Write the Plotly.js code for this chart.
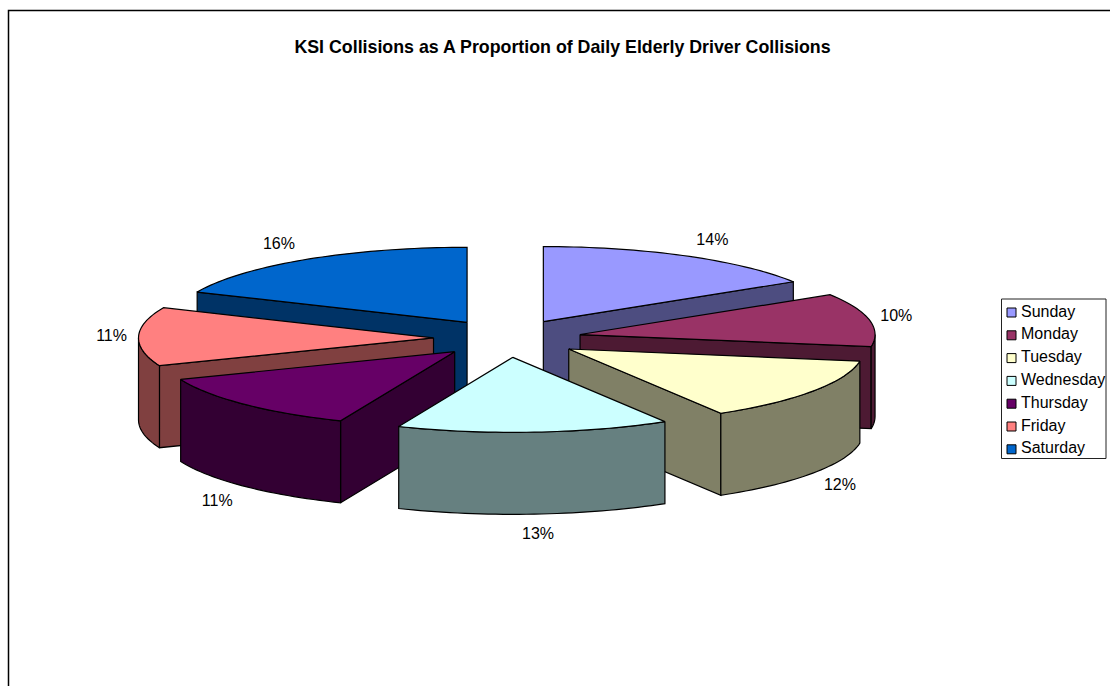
<!DOCTYPE html>
<html>
<head>
<meta charset="utf-8">
<script src="https://cdn.plot.ly/plotly-3.0.1.min.js"></script>
<style>html,body{margin:0;padding:0;background:#fff}#chart{width:1110px;height:686px}</style>
</head>
<body>
<div id="chart"></div>
<script>
// Share of killed-or-seriously-injured collisions, per weekday
const days = ['Sunday', 'Monday', 'Tuesday', 'Wednesday', 'Thursday', 'Friday', 'Saturday'];
const ksiPercent = [14, 10, 12, 13, 11, 11, 16];
const topColors = ['#9999FF', '#993366', '#FFFFCC', '#CCFFFF', '#660066', '#FF8080', '#0066CC'];
const sideColors = ['#4D4D80', '#4D1A33', '#808066', '#668080', '#330033', '#804040', '#003366'];

// Projection of the tilted, exploded pie onto the plot's pixel-sized axes
const CX = 507.5, CY = 338.3, RX = 295, RY = 75, DEPTH = 82, EX = 74, EY = 19.1;
const total = ksiPercent.reduce((a, b) => a + b, 0);
const rad = d => d * Math.PI / 180;

let running = 0;
const wedges = days.map((day, i) => {
  const start = running / total * 360;
  running += ksiPercent[i];
  const end = running / total * 360;
  const mid = (start + end) / 2;
  return {
    i, day, start, end, mid,
    ax: CX + EX * Math.sin(rad(mid)),
    ay: CY - EY * Math.cos(rad(mid))
  };
});

const rimPoint = (w, deg, drop) => [
  w.ax + RX * Math.sin(rad(deg)),
  w.ay - RY * Math.cos(rad(deg)) + drop
];

function polygon(points, fill, name) {
  return {
    type: 'scatter', mode: 'lines', name,
    x: points.map(p => p[0]), y: points.map(p => p[1]),
    fill: 'toself', fillcolor: fill,
    line: {color: '#000', width: 1.2, simplify: false},
    hoverinfo: 'text', text: name, showlegend: false
  };
}

function arc(w, from, to, drop) {
  const pts = [];
  const steps = Math.max(1, Math.ceil(Math.abs(to - from) / 1.5));
  for (let k = 0; k <= steps; k++) pts.push(rimPoint(w, from + (to - from) * k / steps, drop));
  return pts;
}

function wedgeFaces(w) {
  const faces = [];
  const label = w.day + ': ' + ksiPercent[w.i] + '%';
  const side = sideColors[w.i];
  const apexTop = [w.ax, w.ay], apexLow = [w.ax, w.ay + DEPTH];
  // Cut faces, kept only when they turn toward the viewer
  if (Math.cos(rad(w.start - 90)) < 0) {
    faces.push(polygon([apexTop, rimPoint(w, w.start, 0), rimPoint(w, w.start, DEPTH), apexLow, apexTop], side, label));
  }
  if (Math.cos(rad(w.end + 90)) < 0) {
    faces.push(polygon([apexTop, rimPoint(w, w.end, 0), rimPoint(w, w.end, DEPTH), apexLow, apexTop], side, label));
  }
  // Outer wall: only the part of the rim on the near half
  const from = Math.max(w.start, 90), to = Math.min(w.end, 270);
  if (to > from) {
    const wall = arc(w, from, to, 0).concat(arc(w, to, from, DEPTH));
    wall.push(wall[0]);
    faces.push(polygon(wall, side, label));
  }
  const top = [apexTop].concat(arc(w, w.start, w.end, 0));
  top.push(apexTop);
  faces.push(polygon(top, topColors[w.i], label));
  return faces;
}

// Paint far wedges first so nearer ones overlap them
const farToNear = wedges.slice().sort((a, b) => Math.cos(rad(b.mid)) - Math.cos(rad(a.mid)));
const traces = farToNear.flatMap(wedgeFaces);

// Percentage labels sit just beyond the rim, below the wall on the near side
const labelAnchors = wedges.map(w => {
  const s = Math.sin(rad(w.mid)), c = Math.cos(rad(w.mid));
  const base = rimPoint(w, w.mid, c < -0.1 ? DEPTH : 0);
  const nearBoost = c < -0.1 ? 2 : 0;
  return [base[0] + Math.sign(s) * 27 * Math.min(1, 2 * Math.abs(s)), base[1] - 18 * c + 1 + nearBoost];
});
traces.push({
  type: 'scatter', mode: 'text', showlegend: false, hoverinfo: 'skip',
  x: labelAnchors.map(p => p[0]), y: labelAnchors.map(p => p[1]),
  text: ksiPercent.map(v => v + '%'),
  textposition: 'middle center',
  textfont: {family: 'Liberation Sans, Arial, sans-serif', size: 16, color: '#000'}
});

// Key on the right
const KEY_X = 1011.5, KEY_TOP = 312.5, KEY_STEP = 22.8;
const keyY = days.map((_, i) => KEY_TOP + i * KEY_STEP);
traces.push({
  type: 'scatter', mode: 'markers', showlegend: false, hoverinfo: 'skip',
  x: days.map(() => KEY_X), y: keyY,
  marker: {symbol: 'square', size: 9, color: topColors, line: {color: '#000', width: 1}}
});
traces.push({
  type: 'scatter', mode: 'text', showlegend: false, hoverinfo: 'skip',
  x: days.map(() => KEY_X + 9.5), y: keyY, text: days,
  textposition: 'middle right',
  textfont: {family: 'Liberation Sans, Arial, sans-serif', size: 16, color: '#000'}
});

const hiddenAxis = {visible: false, fixedrange: true, showgrid: false, zeroline: false};
const layout = {
  width: 1110, height: 686,
  margin: {l: 0, r: 0, t: 0, b: 0},
  paper_bgcolor: '#fff', plot_bgcolor: '#fff',
  showlegend: false,
  title: {
    text: '<b>KSI Collisions as A Proportion of Daily Elderly Driver Collisions</b>',
    x: 562.5 / 1110, xanchor: 'center', xref: 'paper',
    y: 1 - 47 / 686, yanchor: 'middle', yref: 'container',
    font: {family: 'Liberation Sans, Arial, sans-serif', size: 17.8, color: '#000'}
  },
  xaxis: Object.assign({range: [0, 1110]}, hiddenAxis),
  yaxis: Object.assign({range: [686, 0]}, hiddenAxis),
  shapes: [
    {type: 'rect', xref: 'x', yref: 'y', x0: 8.5, y0: 10.5, x1: 1130, y1: 710,
     line: {color: '#000', width: 1.5}, fillcolor: 'rgba(0,0,0,0)', layer: 'below'},
    {type: 'rect', xref: 'x', yref: 'y', x0: 1001.5, y0: 299, x1: 1106, y1: 458.5,
     line: {color: '#222', width: 1}, fillcolor: '#fff', layer: 'below'}
  ]
};

Plotly.newPlot('chart', traces, layout, {displayModeBar: false, responsive: false});
</script>
</body>
</html>
